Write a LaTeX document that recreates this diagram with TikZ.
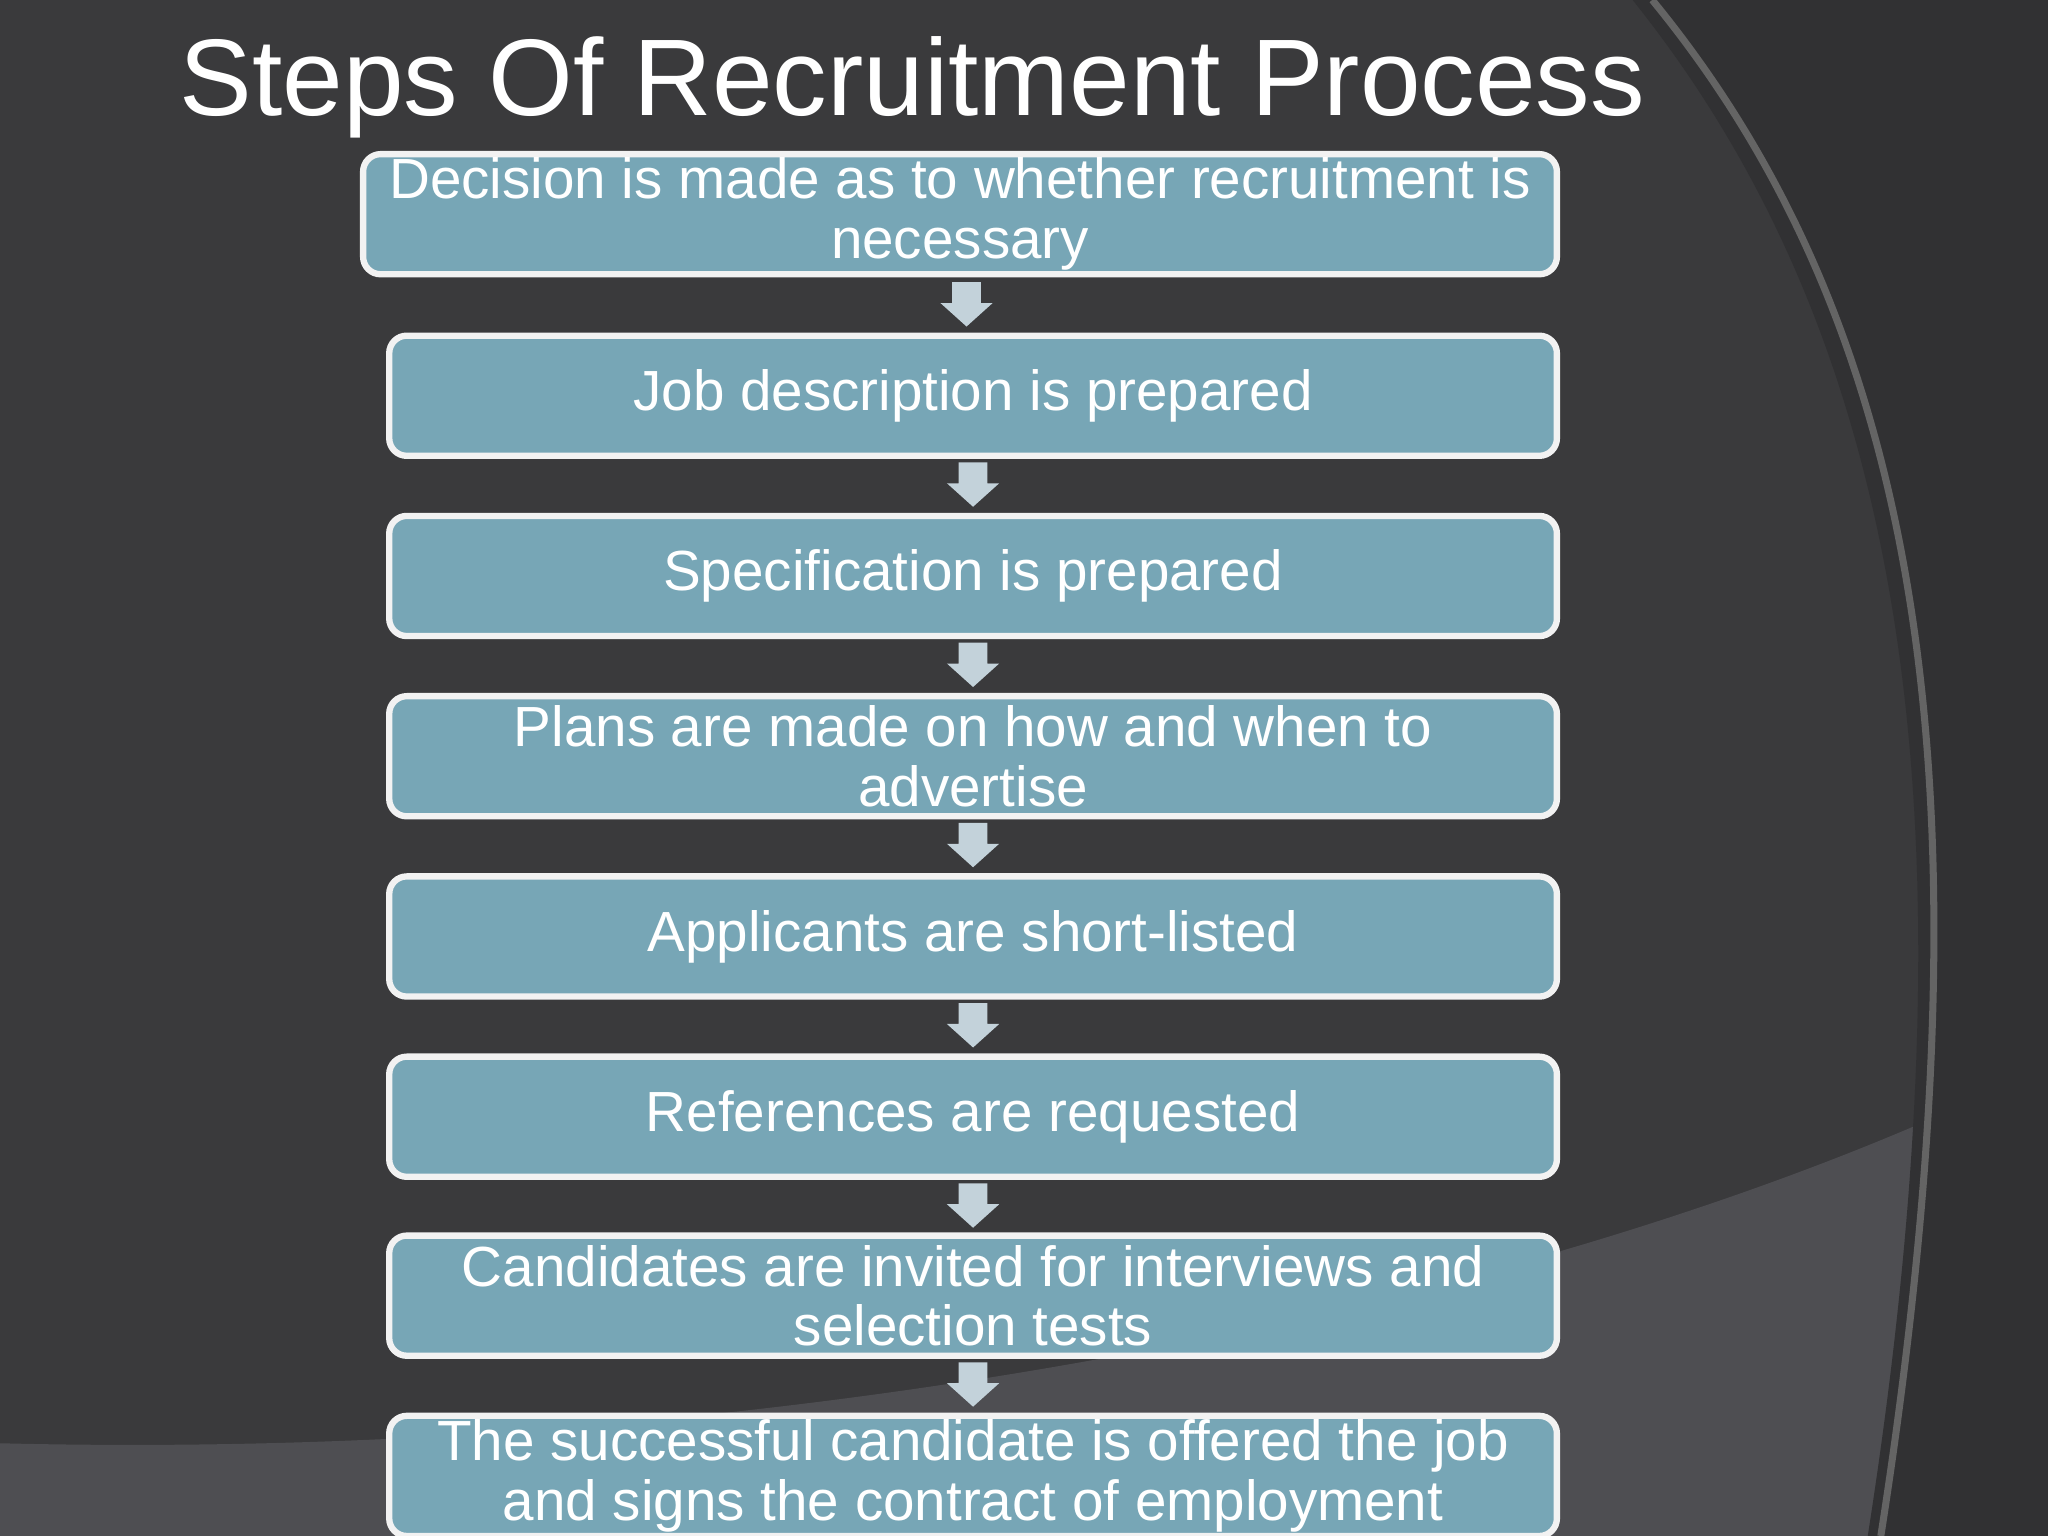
\documentclass[tikz,border=0pt]{standalone}
\usepackage{fontspec}
\setmainfont{Liberation Sans}
\definecolor{bg}{HTML}{3A3A3C}
\definecolor{bgl}{HTML}{4E4E52}
\definecolor{boxfill}{HTML}{77A6B6}
\definecolor{arr}{HTML}{C3D2DA}
\begin{document}
\begin{tikzpicture}[x=0.013061cm,y=-0.013061cm,
  stepbox/.style={draw=white!90!gray,line width=1.8pt,fill=boxfill,rounded corners=5pt,
    minimum height=92*0.013061cm,align=center,text=white,font=\fontsize{16.1}{17}\selectfont,inner sep=0pt},
  dshape/.style={fill=arr}]
\useasboundingbox (0,0) rectangle (1568,1176);
\fill[bg] (0,0) rectangle (1568,1176);
\fill[bgl] (0,1105) .. controls (600,1120) and (1200,1000) .. (1568,815) -- (1568,1176) -- (0,1176) -- cycle;
\fill[bg!85!black] (1250,0) .. controls (1450,250) and (1520,600) .. (1430,1176) -- (1568,1176) -- (1568,0) -- cycle;
\draw[gray!60!bg,line width=2pt] (1265,0) .. controls (1470,250) and (1530,600) .. (1440,1176);
\node[text=white,font=\fontsize{31}{36}\selectfont,anchor=west] (title) at (128,67) {Steps Of Recruitment Process};
\node[stepbox,minimum width=914*0.013061cm] (b1) at (735,164) {Decision is made as to whether recruitment is\\necessary};
\node[stepbox,minimum width=894*0.013061cm] (b2) at (745,303) {Job description is prepared};
\node[stepbox,minimum width=894*0.013061cm] (b3) at (745,441) {Specification is prepared};
\node[stepbox,minimum width=894*0.013061cm] (b4) at (745,579) {Plans are made on how and when to\\advertise};
\node[stepbox,minimum width=894*0.013061cm] (b5) at (745,717) {Applicants are short-listed};
\node[stepbox,minimum width=894*0.013061cm] (b6) at (745,855) {References are requested};
\node[stepbox,minimum width=894*0.013061cm] (b7) at (745,992) {Candidates are invited for interviews and\\selection tests};
\node[stepbox,minimum width=894*0.013061cm] (b8) at (745,1130) {The successful candidate is offered the job\\and signs the contract of employment};
\foreach \n/\x/\y in {a1/740/216,a2/745/354,a3/745/492,a4/745/630,a5/745/768,a6/745/906,a7/745/1043}{
  \coordinate (\n) at (\x,\y);
  \fill[dshape] ([xshift=-11*0.013061cm]\n) -- ++(22,0) -- ++(0,16) -- ++(9,0) -- ++(-20,18) -- ++(-20,-18) -- ++(9,0) -- cycle;
}
\end{tikzpicture}
\end{document}
